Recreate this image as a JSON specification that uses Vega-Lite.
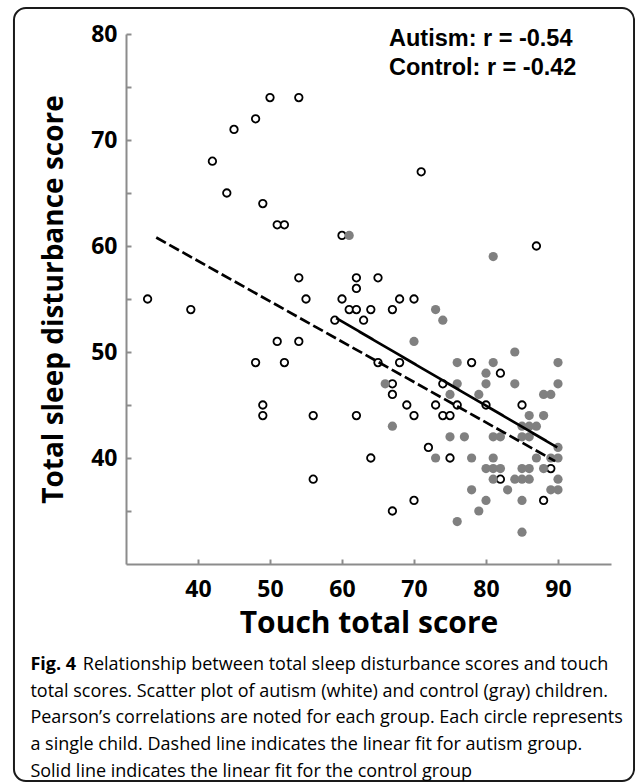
{
  "$schema": "https://vega.github.io/schema/vega-lite/v6.json",
  "width": 485,
  "height": 530,
  "autosize": {"type": "none"},
  "padding": {"left": 126, "top": 34, "right": 24, "bottom": 218},
  "background": "white",
  "config": {
    "view": {"stroke": null},
    "font": "Open Sans",
    "axis": {
      "domainColor": "#8c8c8c",
      "domainWidth": 2,
      "tickColor": "#8c8c8c",
      "tickWidth": 2,
      "tickSize": -5,
      "grid": false,
      "labelFont": "Open Sans",
      "labelFontSize": 23,
      "labelFontWeight": "bold",
      "labelColor": "black",
      "titleFont": "Open Sans",
      "titleFontWeight": "bold",
      "titleColor": "black"
    }
  },
  "datasets": {
    "points": [
      {"group": "Autism", "touch": 33, "sleep": 55},
      {"group": "Autism", "touch": 39, "sleep": 54},
      {"group": "Autism", "touch": 42, "sleep": 68},
      {"group": "Autism", "touch": 44, "sleep": 65},
      {"group": "Autism", "touch": 45, "sleep": 71},
      {"group": "Autism", "touch": 48, "sleep": 72},
      {"group": "Autism", "touch": 50, "sleep": 74},
      {"group": "Autism", "touch": 54, "sleep": 74},
      {"group": "Autism", "touch": 49, "sleep": 64},
      {"group": "Autism", "touch": 51, "sleep": 62},
      {"group": "Autism", "touch": 52, "sleep": 62},
      {"group": "Autism", "touch": 48, "sleep": 49},
      {"group": "Autism", "touch": 51, "sleep": 51},
      {"group": "Autism", "touch": 52, "sleep": 49},
      {"group": "Autism", "touch": 49, "sleep": 45},
      {"group": "Autism", "touch": 49, "sleep": 44},
      {"group": "Autism", "touch": 54, "sleep": 57},
      {"group": "Autism", "touch": 55, "sleep": 55},
      {"group": "Autism", "touch": 54, "sleep": 51},
      {"group": "Autism", "touch": 56, "sleep": 44},
      {"group": "Autism", "touch": 56, "sleep": 38},
      {"group": "Autism", "touch": 60, "sleep": 61},
      {"group": "Autism", "touch": 60, "sleep": 55},
      {"group": "Autism", "touch": 59, "sleep": 53},
      {"group": "Autism", "touch": 61, "sleep": 54},
      {"group": "Autism", "touch": 62, "sleep": 54},
      {"group": "Autism", "touch": 62, "sleep": 57},
      {"group": "Autism", "touch": 62, "sleep": 56},
      {"group": "Autism", "touch": 63, "sleep": 53},
      {"group": "Autism", "touch": 64, "sleep": 54},
      {"group": "Autism", "touch": 65, "sleep": 57},
      {"group": "Autism", "touch": 62, "sleep": 44},
      {"group": "Autism", "touch": 64, "sleep": 40},
      {"group": "Autism", "touch": 65, "sleep": 49},
      {"group": "Autism", "touch": 67, "sleep": 54},
      {"group": "Autism", "touch": 68, "sleep": 55},
      {"group": "Autism", "touch": 70, "sleep": 55},
      {"group": "Autism", "touch": 68, "sleep": 49},
      {"group": "Autism", "touch": 67, "sleep": 47},
      {"group": "Autism", "touch": 67, "sleep": 46},
      {"group": "Autism", "touch": 69, "sleep": 45},
      {"group": "Autism", "touch": 70, "sleep": 44},
      {"group": "Autism", "touch": 71, "sleep": 67},
      {"group": "Autism", "touch": 72, "sleep": 41},
      {"group": "Autism", "touch": 70, "sleep": 36},
      {"group": "Autism", "touch": 67, "sleep": 35},
      {"group": "Autism", "touch": 73, "sleep": 45},
      {"group": "Autism", "touch": 74, "sleep": 47},
      {"group": "Autism", "touch": 74, "sleep": 44},
      {"group": "Autism", "touch": 75, "sleep": 44},
      {"group": "Autism", "touch": 75, "sleep": 40},
      {"group": "Autism", "touch": 76, "sleep": 45},
      {"group": "Autism", "touch": 78, "sleep": 49},
      {"group": "Autism", "touch": 80, "sleep": 45},
      {"group": "Autism", "touch": 82, "sleep": 48},
      {"group": "Autism", "touch": 82, "sleep": 38},
      {"group": "Autism", "touch": 85, "sleep": 45},
      {"group": "Autism", "touch": 87, "sleep": 60},
      {"group": "Autism", "touch": 88, "sleep": 36},
      {"group": "Autism", "touch": 89, "sleep": 39},
      {"group": "Control", "touch": 61, "sleep": 61},
      {"group": "Control", "touch": 73, "sleep": 54},
      {"group": "Control", "touch": 74, "sleep": 53},
      {"group": "Control", "touch": 70, "sleep": 51},
      {"group": "Control", "touch": 66, "sleep": 47},
      {"group": "Control", "touch": 67, "sleep": 43},
      {"group": "Control", "touch": 76, "sleep": 49},
      {"group": "Control", "touch": 76, "sleep": 47},
      {"group": "Control", "touch": 75, "sleep": 46},
      {"group": "Control", "touch": 75, "sleep": 42},
      {"group": "Control", "touch": 77, "sleep": 42},
      {"group": "Control", "touch": 73, "sleep": 40},
      {"group": "Control", "touch": 76, "sleep": 34},
      {"group": "Control", "touch": 78, "sleep": 40},
      {"group": "Control", "touch": 78, "sleep": 37},
      {"group": "Control", "touch": 79, "sleep": 46},
      {"group": "Control", "touch": 79, "sleep": 35},
      {"group": "Control", "touch": 80, "sleep": 48},
      {"group": "Control", "touch": 80, "sleep": 47},
      {"group": "Control", "touch": 80, "sleep": 39},
      {"group": "Control", "touch": 80, "sleep": 36},
      {"group": "Control", "touch": 81, "sleep": 59},
      {"group": "Control", "touch": 81, "sleep": 49},
      {"group": "Control", "touch": 81, "sleep": 42},
      {"group": "Control", "touch": 82, "sleep": 42},
      {"group": "Control", "touch": 81, "sleep": 40},
      {"group": "Control", "touch": 81, "sleep": 39},
      {"group": "Control", "touch": 82, "sleep": 39},
      {"group": "Control", "touch": 81, "sleep": 38},
      {"group": "Control", "touch": 83, "sleep": 37},
      {"group": "Control", "touch": 84, "sleep": 50},
      {"group": "Control", "touch": 84, "sleep": 47},
      {"group": "Control", "touch": 84, "sleep": 38},
      {"group": "Control", "touch": 85, "sleep": 38},
      {"group": "Control", "touch": 85, "sleep": 39},
      {"group": "Control", "touch": 85, "sleep": 36},
      {"group": "Control", "touch": 85, "sleep": 33},
      {"group": "Control", "touch": 86, "sleep": 44},
      {"group": "Control", "touch": 85, "sleep": 43},
      {"group": "Control", "touch": 86, "sleep": 43},
      {"group": "Control", "touch": 87, "sleep": 43},
      {"group": "Control", "touch": 85, "sleep": 42},
      {"group": "Control", "touch": 86, "sleep": 42},
      {"group": "Control", "touch": 86, "sleep": 39},
      {"group": "Control", "touch": 86, "sleep": 38},
      {"group": "Control", "touch": 87, "sleep": 40},
      {"group": "Control", "touch": 88, "sleep": 46},
      {"group": "Control", "touch": 89, "sleep": 46},
      {"group": "Control", "touch": 88, "sleep": 44},
      {"group": "Control", "touch": 88, "sleep": 39},
      {"group": "Control", "touch": 89, "sleep": 37},
      {"group": "Control", "touch": 90, "sleep": 49},
      {"group": "Control", "touch": 90, "sleep": 47},
      {"group": "Control", "touch": 90, "sleep": 41},
      {"group": "Control", "touch": 90, "sleep": 40},
      {"group": "Control", "touch": 89, "sleep": 40},
      {"group": "Control", "touch": 90, "sleep": 38},
      {"group": "Control", "touch": 90, "sleep": 37}
    ],
    "fits": [
      {"fit": "Autism", "touch": 34.2, "sleep": 60.8},
      {"fit": "Autism", "touch": 89.6, "sleep": 39.7},
      {"fit": "Control", "touch": 59.2, "sleep": 53.2},
      {"fit": "Control", "touch": 89.9, "sleep": 41.0}
    ]
  },
  "layer": [
    {
      "data": {"values": [{}]},
      "mark": {"type": "rect", "fill": null, "stroke": "#1a1a1a", "strokeWidth": 2, "cornerRadius": 12, "clip": false},
      "encoding": {
        "x": {"datum": 14.44, "type": "quantitative"},
        "x2": {"datum": 100.56},
        "y": {"datum": 82.45, "type": "quantitative"},
        "y2": {"datum": 9.53}
      }
    },
    {
      "data": {"name": "points"},
      "transform": [{"filter": "datum.group === 'Autism'"}],
      "mark": {"type": "point", "shape": "circle", "filled": false, "fill": "white", "fillOpacity": 1, "stroke": "black", "strokeWidth": 1.8, "size": 56, "opacity": 1},
      "encoding": {
        "x": {
          "field": "touch", "type": "quantitative",
          "scale": {"domain": [30, 97.36], "nice": false, "zero": false},
          "axis": {
            "values": [40, 50, 60, 70, 80, 90],
            "labelPadding": 19,
            "title": "Touch total score",
            "titleFontSize": 30,
            "titlePadding": 7
          }
        },
        "y": {
          "field": "sleep", "type": "quantitative",
          "scale": {"domain": [30, 80], "nice": false, "zero": false},
          "axis": {
            "values": [35, 40, 45, 50, 55, 60, 65, 70, 75, 80],
            "labelExpr": "datum.value % 10 === 0 ? datum.label : ''",
            "labelPadding": 14,
            "title": "Total sleep disturbance score",
            "titleFontSize": 28,
            "titlePadding": 22
          }
        }
      }
    },
    {
      "data": {"name": "points"},
      "transform": [{"filter": "datum.group === 'Control'"}],
      "mark": {"type": "circle", "color": "#808080", "size": 85, "opacity": 1},
      "encoding": {
        "x": {"field": "touch", "type": "quantitative"},
        "y": {"field": "sleep", "type": "quantitative"}
      }
    },
    {
      "data": {"name": "fits"},
      "mark": {"type": "line", "color": "black", "strokeWidth": 2.7, "clip": false},
      "encoding": {
        "x": {"field": "touch", "type": "quantitative"},
        "y": {"field": "sleep", "type": "quantitative"},
        "detail": {"field": "fit"},
        "strokeDash": {
          "field": "fit", "type": "nominal",
          "scale": {"domain": ["Autism", "Control"], "range": [[11, 4], [1, 0]]},
          "legend": null
        }
      }
    },
    {
      "data": {"values": [{}]},
      "mark": {"type": "text", "text": "Autism: r = -0.54", "align": "left", "baseline": "alphabetic", "font": "Liberation Sans", "fontWeight": "bold", "fontSize": 23.5, "color": "black"},
      "encoding": {
        "x": {"datum": 66.53, "type": "quantitative"},
        "y": {"datum": 78.85, "type": "quantitative"}
      }
    },
    {
      "data": {"values": [{}]},
      "mark": {"type": "text", "text": "Control: r = -0.42", "align": "left", "baseline": "alphabetic", "font": "Liberation Sans", "fontWeight": "bold", "fontSize": 23.5, "color": "black"},
      "encoding": {
        "x": {"datum": 66.53, "type": "quantitative"},
        "y": {"datum": 76.13, "type": "quantitative"}
      }
    },
    {
      "data": {"values": [{}]},
      "mark": {"type": "text", "text": "Fig. 4", "align": "left", "baseline": "alphabetic", "font": "Open Sans", "fontWeight": "bold", "fontSize": 18, "color": "black", "clip": false},
      "encoding": {
        "x": {"datum": 16.72, "type": "quantitative"},
        "y": {"datum": 20.0, "type": "quantitative"}
      }
    },
    {
      "data": {"values": [{}]},
      "mark": {"type": "text", "text": "Relationship between total sleep disturbance scores and touch", "align": "left", "baseline": "alphabetic", "font": "Open Sans", "fontSize": 18, "color": "black", "clip": false},
      "encoding": {
        "x": {"datum": 24.0, "type": "quantitative"},
        "y": {"datum": 20.0, "type": "quantitative"}
      }
    },
    {
      "data": {"values": [{}]},
      "mark": {"type": "text", "text": ["total scores. Scatter plot of autism (white) and control (gray) children.", "Pearson’s correlations are noted for each group. Each circle represents", "a single child. Dashed line indicates the linear fit for autism group.", "Solid line indicates the linear fit for the control group"], "align": "left", "baseline": "alphabetic", "font": "Open Sans", "fontSize": 18, "lineHeight": 26.7, "color": "black", "clip": false},
      "encoding": {
        "x": {"datum": 16.72, "type": "quantitative"},
        "y": {"datum": 17.48, "type": "quantitative"}
      }
    }
  ]
}
